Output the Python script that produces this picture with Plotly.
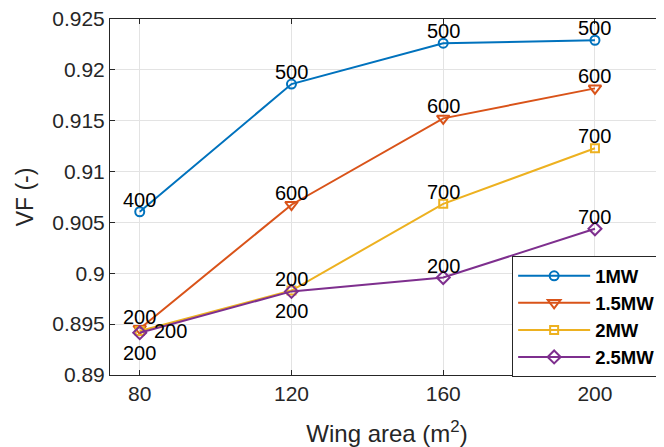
import plotly.graph_objects as go

# ---- data ----
wing_area = [80, 120, 160, 200]
series_names = ["1MW", "1.5MW", "2MW", "2.5MW"]
vf_1mw = [0.90605, 0.91860, 0.92262, 0.92291]
vf_15mw = [0.89455, 0.90674, 0.91523, 0.91818]
vf_2mw = [0.89432, 0.89830, 0.90683, 0.91229]
vf_25mw = [0.89416, 0.89822, 0.89958, 0.90438]
labels_1mw = ["400", "500", "500", "500"]
labels_15mw = ["200", "600", "600", "600"]
labels_2mw = ["200", "200", "700", "700"]
labels_25mw = ["200", "200", "200", "700"]
y_tick_vals = [0.89, 0.895, 0.9, 0.905, 0.91, 0.915, 0.92, 0.925]
y_tick_text = ["0.89", "0.895", "0.9", "0.905", "0.91", "0.915", "0.92", "0.925"]
x_tick_vals = [80, 120, 160, 200]
x_tick_text = ["80", "120", "160", "200"]

# ---- styles ----
colors = ["#0072BD", "#D95319", "#EDB120", "#7E2F8E"]
symbols = ["circle-open", "triangle-down-open", "square-open", "diamond-open"]
msizes = [9, 11, 8, 10]
# label placement per point: "t" above, "b" below, "r" right
placements = [
    ["t", "t", "t", "t"],
    ["t", "t", "t", "t"],
    ["r", "t", "t", "t"],
    ["b", "b", "t", "t"],
]
FONT = "Liberation Sans, Arial, Helvetica, sans-serif"

fig = go.Figure()
all_vals = [vf_1mw, vf_15mw, vf_2mw, vf_25mw]
all_labels = [labels_1mw, labels_15mw, labels_2mw, labels_25mw]
annotations = []
for i in range(4):
    fig.add_trace(go.Scatter(
        x=wing_area, y=all_vals[i], name=series_names[i],
        mode="lines+markers",
        line=dict(color=colors[i], width=2),
        marker=dict(symbol=symbols[i], size=msizes[i], color=colors[i],
                    line=dict(width=2, color=colors[i])),
    ))
    for xv, yv, lab, pl in zip(wing_area, all_vals[i], all_labels[i], placements[i]):
        a = dict(x=xv, y=yv, xref="x", yref="y", text=lab, showarrow=False,
                 font=dict(family=FONT, size=20, color="black"))
        if pl == "t":
            a.update(xanchor="center", yanchor="middle", yshift=12)
        elif pl == "b":
            a.update(xanchor="center", yanchor="middle", yshift=-20)
        else:
            a.update(xanchor="left", yanchor="middle", xshift=12, yshift=0)
        annotations.append(a)

# page body has an 8px margin; size the figure to fill the rest of the window
W, H = 656, 439
L, T, R, B = 101.5, 10.7, 0, 71.5

fig.update_layout(
    width=W, height=H,
    margin=dict(l=L, r=R, t=T, b=B, pad=0),
    plot_bgcolor="white", paper_bgcolor="white",
    font=dict(family=FONT, color="#262626"),
    showlegend=True,
    annotations=annotations,
    legend=dict(
        x=(504 - L) / (W - L - R), y=(H - B - 248.5) / (H - B - T),
        xanchor="left", yanchor="top",
        bgcolor="white", bordercolor="#262626", borderwidth=1,
        font=dict(family=FONT, size=18.5, color="black", weight="bold"),
        tracegroupgap=0, itemwidth=72,
    ),
    xaxis=dict(
        range=[72.16, 218.2], tickvals=x_tick_vals, ticktext=x_tick_text,
        showgrid=True, gridcolor="#e3e3e3", gridwidth=1,
        showline=True, linecolor="#262626", linewidth=1, mirror="ticks",
        ticks="inside", ticklen=5, tickcolor="#262626",
        tickfont=dict(family=FONT, size=21, color="#262626"),
        title=dict(text="Wing area (m<sup>2</sup>)", standoff=25,
                   font=dict(family=FONT, size=24, color="#262626")),
        zeroline=False, automargin=False,
    ),
    yaxis=dict(
        range=[0.89, 0.9250001], tickvals=y_tick_vals, ticktext=y_tick_text,
        showgrid=True, gridcolor="#e3e3e3", gridwidth=1,
        showline=True, linecolor="#262626", linewidth=1, mirror=False,
        ticks="inside", ticklen=5, tickcolor="#262626",
        tickfont=dict(family=FONT, size=21, color="#262626"),
        ticklabeloverflow="allow",
        title=dict(text="VF (-)", standoff=12,
                   font=dict(family=FONT, size=23, color="#262626")),
        zeroline=False, automargin=False,
    ),
)

fig.write_html("out.html")
